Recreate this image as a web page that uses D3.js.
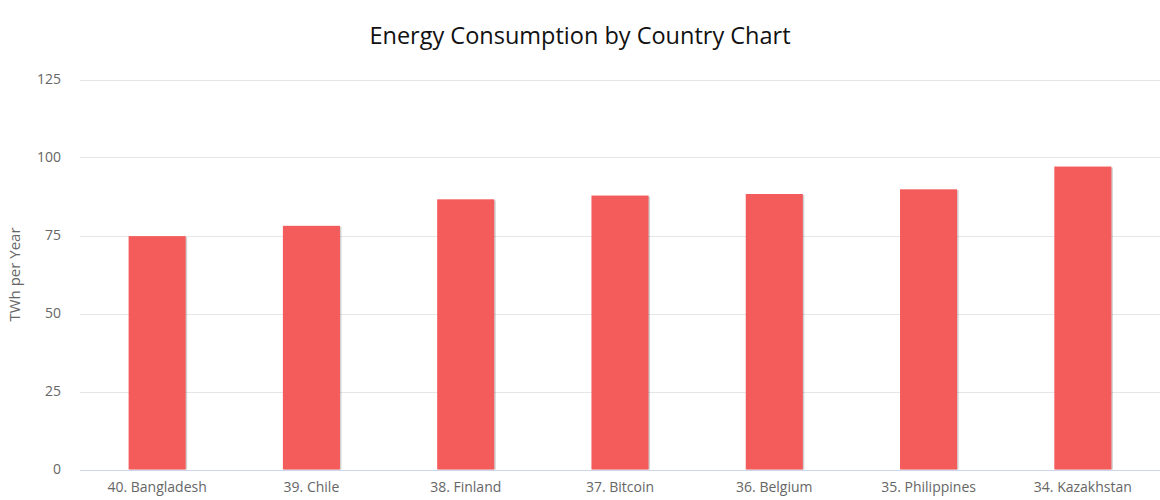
<!DOCTYPE html>
<html>
<head>
<meta charset="utf-8">
<script src="https://cdn.jsdelivr.net/npm/d3@7"></script>
<style>
  html, body { margin: 0; padding: 0; background: #fff; }
  svg { display: block; }
  text { font-family: "Open Sans", "DejaVu Sans", sans-serif; }
</style>
</head>
<body>
<svg id="chart" width="1160" height="500"></svg>
<script>
const categories = ["40. Bangladesh", "39. Chile", "38. Finland", "37. Bitcoin", "36. Belgium", "35. Philippines", "34. Kazakhstan"];
const values = [74.8, 78.1, 86.6, 87.8, 88.3, 89.8, 97.1];
const yTicks = [0, 25, 50, 75, 100, 125];
const title = "Energy Consumption by Country Chart";
const yTitle = "TWh per Year";

const svg = d3.select("#chart");
const margin = { left: 80, right: 0, top: 79.5, bottom: 30.5 };
const W = 1160, H = 500;
const x = d3.scaleBand().domain(categories).range([margin.left, W - margin.right]).paddingInner(0.63).paddingOuter(0.315);
const y = d3.scaleLinear().domain([0, 125]).range([H - margin.bottom, margin.top]);

// gridlines
svg.append("g").selectAll("line").data(yTicks.filter(d => d !== 0)).join("line")
  .attr("x1", margin.left).attr("x2", W)
  .attr("y1", d => Math.round(y(d)) + 0.5).attr("y2", d => Math.round(y(d)) + 0.5)
  .attr("stroke", "#e6e6e6").attr("stroke-width", 1);

// y axis labels
const yAxis = d3.axisLeft(y).tickValues(yTicks).tickSize(0).tickPadding(0);
const gy = svg.append("g").attr("transform", `translate(${margin.left - 19},0)`).call(yAxis);
gy.select(".domain").remove();
gy.selectAll("text").attr("fill", "#666").style("font-size", "14px").attr("dy", "0.32em");

// y title
svg.append("text")
  .attr("transform", `translate(20,${(y(0) + y(125)) / 2}) rotate(-90)`)
  .attr("text-anchor", "middle")
  .attr("fill", "#666").style("font-size", "15px")
  .text(yTitle);

// bars shadows
const bars = svg.append("g");
bars.selectAll("rect.shadow").data(values).join("rect")
  .attr("class", "shadow")
  .attr("x", (d, i) => x(categories[i]) + 1.5)
  .attr("y", d => y(d) + 1)
  .attr("width", x.bandwidth())
  .attr("height", d => y(0) - y(d) - 1)
  .attr("fill", "#000").attr("opacity", 0.18);
bars.selectAll("rect.bar").data(values).join("rect")
  .attr("class", "bar")
  .attr("x", (d, i) => x(categories[i]))
  .attr("y", d => y(d))
  .attr("width", x.bandwidth())
  .attr("height", d => y(0) - y(d))
  .attr("fill", "#f45b5b");

// x axis
const xAxis = d3.axisBottom(x).tickSize(0).tickPadding(12);
const gx = svg.append("g").attr("transform", `translate(0,${Math.round(y(0)) + 0.5})`).call(xAxis);
gx.select(".domain").attr("stroke", "#ccd6eb").attr("d", `M${margin.left},0H${W}`);
gx.selectAll("text").attr("fill", "#666").style("font-size", "14px");

// title
svg.append("text")
  .attr("x", W / 2).attr("y", 44)
  .attr("text-anchor", "middle")
  .attr("fill", "#111").style("font-size", "23.5px")
  .text(title);
</script>
</body>
</html>
